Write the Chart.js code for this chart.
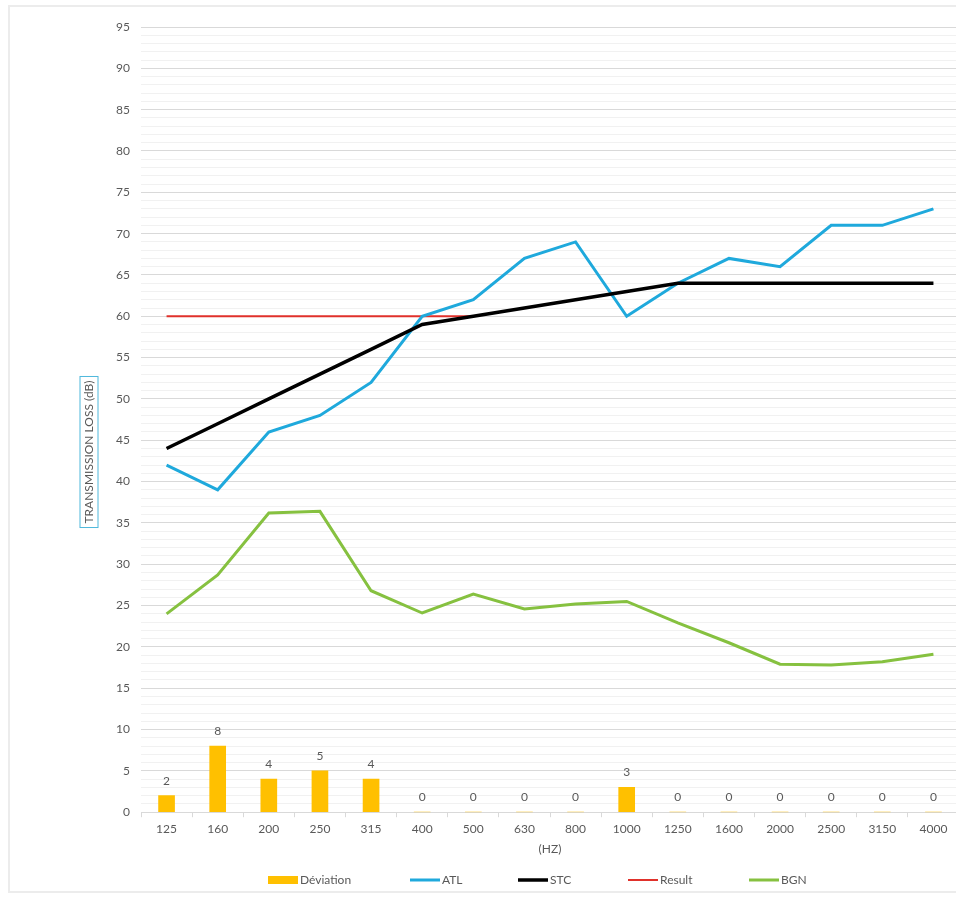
<!DOCTYPE html>
<html>
<head>
<meta charset="utf-8">
<script src="https://cdn.jsdelivr.net/npm/chart.js@4.4.1/dist/chart.umd.min.js"></script>
<style>
  html, body { margin: 0; padding: 0; background: #fff; overflow: hidden; }
  #frame { position: absolute; left: 8px; top: 5px; width: 960px; height: 888px;
           border: 2px solid #ececec; box-sizing: border-box; }
  #wrap { position: absolute; left: 0; top: 0; width: 956px; height: 898px; overflow: hidden; }
</style>
</head>
<body>
<div id="frame"></div>
<div id="wrap"><canvas id="chart" width="959" height="898"></canvas></div>
<script>
// ------------------ Data ------------------
const FREQS = ["125", "160", "200", "250", "315", "400", "500", "630", "800", "1000", "1250", "1600", "2000", "2500", "3150", "4000"];
const DEVIATION = [2, 8, 4, 5, 4, 0, 0, 0, 0, 3, 0, 0, 0, 0, 0, 0];
const ATL = [42, 39, 46, 48, 52, 60, 62, 67, 69, 60, 64, 67, 66, 71, 71, 73];
const STC = [44, 47, 50, 53, 56, 59, 60, 61, 62, 63, 64, 64, 64, 64, 64, 64];
const RESULT = [60, 60, 60, 60, 60, 60, 60, null, null, null, null, null, null, null, null, null];
const BGN = [24, 28.7, 36.2, 36.4, 26.8, 24.1, 26.4, 24.6, 25.2, 25.5, 22.9, 20.5, 17.9, 17.8, 18.2, 19.1];
const Y_MIN = 0, Y_MAX = 95;

const TEXT = "#595959";
const FONT = "Lato, 'Open Sans', sans-serif";

// ------------------ Plugins ------------------
// value labels above the deviation bars
const barLabels = {
  id: "barLabels",
  afterDatasetsDraw(chart) {
    const meta = chart.getDatasetMeta(0);
    const ctx = chart.ctx;
    ctx.save();
    ctx.font = "12px " + FONT;
    ctx.fillStyle = TEXT;
    ctx.textAlign = "center";
    ctx.textBaseline = "middle";
    meta.data.forEach((bar, i) => {
      ctx.fillText(String(DEVIATION[i]), bar.x, bar.y - 15);
    });
    ctx.restore();
  }
};

// boxed, rotated y-axis title
const yTitleBox = {
  id: "yTitleBox",
  afterDraw(chart) {
    const ctx = chart.ctx;
    const cx = 89, cy = 452;
    const label = "TRANSMISSION LOSS (dB)";
    ctx.save();
    ctx.font = "12px " + FONT;
    const w = ctx.measureText(label).width;
    ctx.translate(cx, cy);
    ctx.rotate(-Math.PI / 2);
    ctx.strokeStyle = "#4fb8dc";
    ctx.lineWidth = 1;
    ctx.strokeRect(-w / 2 - 4, -9, w + 8, 18);
    ctx.fillStyle = TEXT;
    ctx.textAlign = "center";
    ctx.textBaseline = "middle";
    ctx.fillText(label, 0, 0);
    ctx.restore();
  }
};

// legend row under the axis: wide swatch, label right after it
const LEGEND_X = [268, 410, 518, 628, 749];
const legendRow = {
  id: "legendRow",
  afterDraw(chart) {
    const ctx = chart.ctx;
    const y = 880;
    ctx.save();
    ctx.font = "12px " + FONT;
    ctx.textBaseline = "middle";
    ctx.textAlign = "left";
    chart.data.datasets.forEach((ds, i) => {
      const x = LEGEND_X[i];
      if (ds.type === "bar") {
        ctx.fillStyle = ds.backgroundColor;
        ctx.fillRect(x, y - 4, 30, 8);
      } else {
        ctx.strokeStyle = ds.borderColor;
        ctx.lineWidth = ds.borderWidth;
        ctx.beginPath();
        ctx.moveTo(x, y);
        ctx.lineTo(x + 30, y);
        ctx.stroke();
      }
      ctx.fillStyle = TEXT;
      ctx.fillText(ds.label, x + 32, y);
    });
    ctx.restore();
  }
};

// ------------------ Chart ------------------
new Chart(document.getElementById("chart").getContext("2d"), {
  type: "bar",
  data: {
    labels: FREQS,
    datasets: [
      { type: "bar", label: "Déviation", data: DEVIATION, backgroundColor: "#ffc000",
        borderWidth: 0, barThickness: 16, order: 5 },
      { type: "line", label: "ATL", data: ATL, borderColor: "#1fa9dc", backgroundColor: "#1fa9dc",
        borderWidth: 3, pointRadius: 0, tension: 0, order: 2 },
      { type: "line", label: "STC", data: STC, borderColor: "#000000", backgroundColor: "#000000",
        borderWidth: 3.5, pointRadius: 0, tension: 0, order: 1 },
      { type: "line", label: "Result", data: RESULT, borderColor: "#e0312b", backgroundColor: "#e0312b",
        borderWidth: 2, pointRadius: 0, tension: 0, order: 3 },
      { type: "line", label: "BGN", data: BGN, borderColor: "#86c140", backgroundColor: "#86c140",
        borderWidth: 3, pointRadius: 0, tension: 0, order: 4 }
    ]
  },
  options: {
    responsive: false,
    animation: false,
    layout: { padding: { top: 27, right: 0, left: 0, bottom: 42 } },
    plugins: {
      tooltip: { enabled: false },
      legend: { display: false }
    },
    scales: {
      x: {
        offset: true,
        grid: { display: true, drawOnChartArea: false, drawTicks: true, tickLength: 5, color: "#d9d9d9", offset: true },
        border: { display: true, color: "#d9d9d9", width: 1 },
        ticks: { color: TEXT, font: { family: FONT, size: 12 }, padding: 5, maxRotation: 0 },
        title: { display: true, text: "(HZ)", color: TEXT, font: { family: FONT, size: 12 }, padding: { top: 0, bottom: 0 } }
      },
      y: {
        min: Y_MIN, max: Y_MAX,
        afterFit(scale) { scale.width = 141; },
        border: { display: false },
        grid: {
          drawTicks: false,
          color: (c) => (c.tick && c.tick.value % 5 === 0) ? "#d9d9d9" : "#f1f1f1",
          lineWidth: 1
        },
        ticks: {
          stepSize: 1,
          autoSkip: false,
          padding: 11,
          color: TEXT,
          font: { family: FONT, size: 12 },
          callback: (v) => (v % 5 === 0 ? String(v) : "")
        }
      }
    }
  },
  plugins: [barLabels, yTitleBox, legendRow]
});
</script>
</body>
</html>
